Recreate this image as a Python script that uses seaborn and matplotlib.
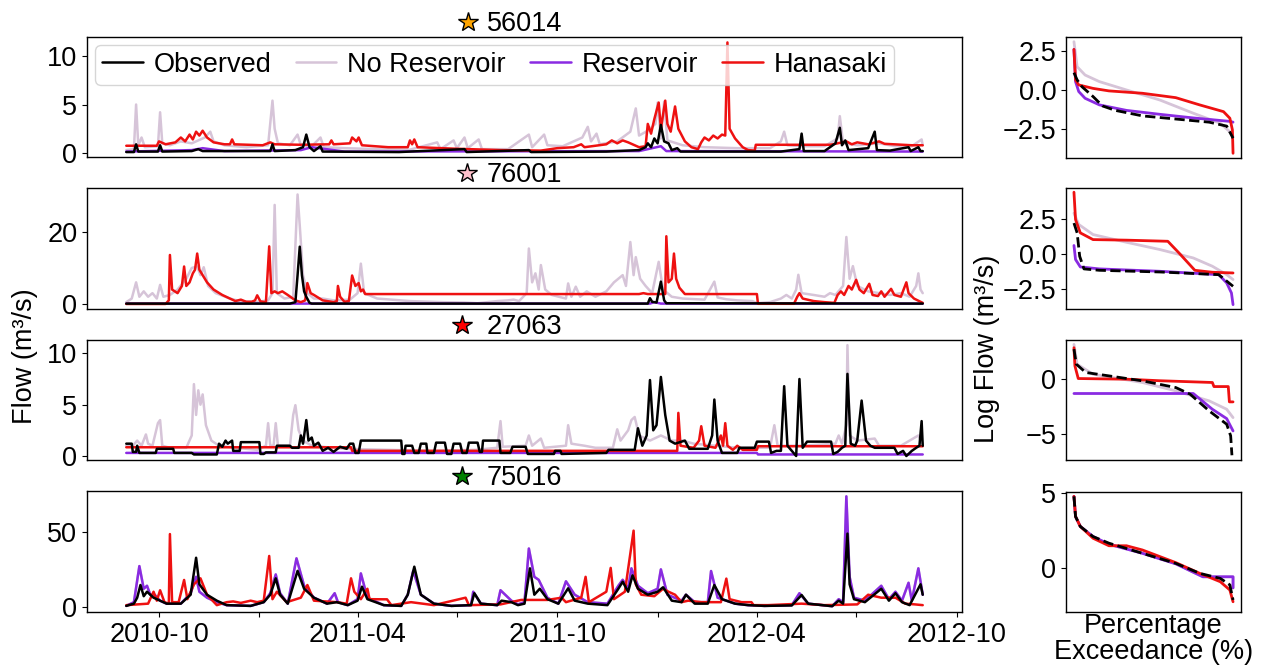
import pandas as pd
import matplotlib.pyplot as plt
import seaborn as sns

# ---------------------- DATA ----------------------
# time series digitised as (day since 2010-09-01, flow m3/s) breakpoints
start = pd.Timestamp("2010-09-01")
gauges = ["56014", "76001", "27063", "75016"]
star_colors = ["orange", "pink", "red", "green"]

obs_56014 = [(0, 0.1), (7, 0.1), (9, 0.9), (11, 0.15), (29, 0.15), (31, 0.8), (33, 0.15), (60, 0.2), (66, 0.4), (70, 0.2),
             (132, 0.2), (134, 0.9), (136, 0.2), (155, 0.3), (162, 0.6), (165, 1.9), (168, 0.6), (172, 0.2), (178, 0.7),
             (180, 0.15), (250, 0.1), (310, 0.4), (312, 0.1), (369, 0.3), (371, 0.1), (440, 0.15), (470, 0.3), (476, 0.6),
             (478, 1.0), (481, 0.6), (484, 1.5), (487, 1.0), (490, 2.9), (493, 1.2), (497, 1.0), (500, 0.3), (505, 0.5),
             (508, 0.15), (600, 0.15), (617, 0.4), (619, 2.0), (621, 0.2), (640, 0.2), (650, 1.0), (654, 2.6), (656, 0.8),
             (659, 1.3), (662, 0.3), (680, 0.5), (686, 2.2), (688, 0.3), (700, 0.25), (717, 0.6), (719, 0.2), (726, 0.6),
             (728, 0.2), (730, 0.2)]
nores_56014 = [(0, 0.3), (7, 0.4), (9, 5.0), (11, 0.8), (14, 1.6), (17, 0.6), (29, 0.7), (31, 4.2), (33, 1.0), (40, 0.8),
               (50, 1.2), (60, 1.0), (72, 1.6), (77, 2.2), (80, 1.2), (90, 0.8), (110, 0.6), (130, 0.8), (134, 5.4),
               (136, 2.5), (139, 1.0), (150, 0.8), (157, 1.9), (160, 0.8), (170, 0.7), (178, 1.6), (181, 0.6), (200, 0.5),
               (230, 0.4), (260, 0.35), (285, 1.1), (288, 0.4), (300, 1.3), (303, 0.5), (310, 1.6), (313, 0.5), (323, 1.4),
               (326, 0.4), (350, 0.4), (369, 1.9), (372, 0.6), (383, 1.9), (386, 0.8), (400, 0.7), (418, 1.6), (423, 2.7),
               (426, 1.2), (431, 2.0), (434, 0.9), (450, 1.2), (462, 2.2), (467, 4.6), (470, 1.8), (478, 2.3), (485, 3.0),
               (487, 5.2), (490, 1.5), (493, 5.3), (496, 1.3), (510, 0.8), (530, 0.6), (560, 0.5), (590, 0.5), (600, 1.2),
               (603, 2.2), (606, 0.8), (620, 0.7), (640, 0.7), (652, 1.5), (654, 3.8), (657, 1.0), (670, 0.8), (690, 1.0),
               (705, 0.7), (720, 0.7), (729, 1.4), (730, 0.8)]
res_56014 = [(0, 0.15), (60, 0.3), (70, 0.5), (90, 0.2), (160, 0.3), (170, 0.6), (200, 0.15), (470, 0.2), (490, 0.7),
             (495, 0.2), (730, 0.15)]
hana_56014 = [(0, 0.75), (28, 0.75), (30, 1.2), (36, 0.9), (45, 1.1), (50, 1.6), (54, 1.2), (58, 1.9), (61, 1.4), (64, 2.2),
              (67, 1.8), (70, 2.3), (74, 1.6), (80, 1.1), (90, 0.9), (95, 0.9), (97, 1.4), (99, 0.9), (125, 0.8), (132, 1.1),
              (136, 0.9), (160, 0.85), (186, 0.9), (188, 1.3), (190, 0.9), (205, 1.0), (207, 1.6), (211, 1.2), (213, 1.6),
              (216, 0.8), (240, 0.6), (258, 0.6), (260, 1.3), (262, 0.9), (264, 1.4), (267, 0.6), (300, 0.45), (343, 0.3),
              (380, 0.25), (395, 0.5), (410, 0.6), (417, 0.9), (420, 0.6), (440, 0.9), (445, 1.3), (450, 1.0), (455, 1.3),
              (460, 1.1), (470, 0.6), (476, 0.7), (478, 3.0), (481, 2.0), (484, 3.5), (488, 5.2), (490, 2.5), (494, 5.4),
              (496, 3.0), (499, 2.2), (503, 4.8), (506, 2.5), (512, 1.2), (518, 0.6), (524, 0.4), (527, 1.1), (530, 1.6),
              (534, 1.3), (538, 1.8), (542, 1.5), (546, 1.9), (549, 1.8), (551, 11.4), (553, 2.5), (558, 1.5), (565, 0.6),
              (570, 0.3), (576, 0.25), (577, 0.85), (645, 0.85), (650, 0.95), (660, 1.2), (665, 0.9), (670, 1.1),
              (680, 0.9), (690, 1.2), (695, 0.95), (720, 0.8), (730, 0.8)]

obs_76001 = [(0, 0.1), (150, 0.1), (155, 0.5), (157, 8.0), (159, 15.9), (161, 8.0), (163, 3.5), (165, 2.0), (168, 0.3),
             (170, 0.1), (478, 0.1), (480, 1.6), (482, 0.6), (486, 0.4), (490, 6.2), (493, 1.0), (495, 0.2), (730, 0.1)]
nores_76001 = [(0, 0.5), (5, 1.5), (9, 6.0), (12, 2.0), (16, 3.5), (20, 2.0), (24, 3.0), (28, 1.5), (31, 5.3), (34, 2.0),
               (40, 2.5), (47, 4.0), (55, 7.0), (60, 10.0), (65, 10.4), (68, 8.0), (71, 10.2), (75, 5.0), (82, 3.0),
               (95, 1.5), (104, 0.8), (120, 0.6), (130, 1.0), (134, 3.0), (136, 27.5), (138, 3.0), (145, 1.5), (153, 2.0),
               (157, 30.4), (159, 21.8), (162, 8.0), (166, 3.0), (172, 1.5), (180, 1.5), (190, 1.0), (205, 1.2),
               (212, 3.0), (215, 11.2), (218, 3.0), (230, 1.5), (260, 0.8), (290, 0.5), (310, 0.4), (322, 0.2),
               (340, 0.8), (350, 1.0), (355, 1.2), (360, 0.8), (367, 3.0), (369, 15.4), (372, 6.0), (375, 8.5),
               (378, 4.0), (380, 10.8), (384, 4.0), (390, 2.5), (403, 1.5), (405, 5.7), (408, 2.0), (412, 4.8),
               (416, 2.0), (422, 3.5), (430, 2.0), (440, 3.5), (447, 6.0), (455, 8.0), (458, 5.0), (462, 17.2),
               (465, 8.0), (467, 13.0), (471, 7.0), (476, 5.0), (482, 3.0), (488, 11.7), (492, 4.0), (500, 2.0),
               (510, 1.5), (530, 1.2), (539, 6.2), (542, 1.8), (550, 1.3), (560, 1.0), (574, 0.8), (578, 0.2), (590, 0.5),
               (600, 1.5), (605, 2.5), (610, 1.5), (614, 4.0), (616, 8.1), (619, 3.0), (630, 2.5), (640, 2.0), (645, 3.0),
               (650, 2.5), (657, 5.0), (660, 18.6), (663, 7.0), (666, 10.5), (670, 5.0), (680, 3.5), (690, 3.0),
               (700, 2.5), (710, 3.0), (718, 2.0), (724, 5.0), (726, 8.5), (728, 4.0), (730, 3.0)]
res_76001 = [(0, 0.1), (480, 0.1), (484, 0.5), (490, 0.1), (730, 0.1)]
hana_76001 = [(0, 0.0), (36, 0.0), (39, 1.0), (40, 13.6), (42, 4.0), (47, 3.0), (51, 5.0), (53, 10.4), (55, 5.0), (58, 6.0),
              (61, 8.5), (63, 9.5), (65, 14.0), (67, 9.5), (70, 8.0), (74, 6.0), (80, 4.0), (88, 2.5), (95, 1.5), (100, 0.8),
              (105, 1.2), (110, 0.6), (115, 0.6), (118, 1.0), (120, 2.4), (123, 0.7), (128, 0.5), (131, 16.0), (133, 3.0),
              (136, 3.5), (139, 3.0), (143, 3.5), (148, 2.5), (155, 1.0), (160, 0.5), (164, 1.0), (166, 5.8), (169, 3.0),
              (172, 2.5), (180, 1.0), (190, 0.5), (193, 0.8), (194, 5.0), (196, 2.0), (200, 0.6), (204, 0.8), (207, 7.9),
              (210, 5.0), (213, 5.8), (215, 3.5), (217, 4.0), (219, 2.75), (470, 2.75), (474, 3.0), (478, 2.75),
              (494, 2.75), (495, 18.8), (497, 6.0), (500, 7.0), (502, 14.0), (504, 7.0), (507, 4.5), (512, 2.75),
              (578, 2.75), (579, 0.05), (612, 0.05), (615, 2.0), (617, 3.0), (620, 1.5), (630, 0.8), (640, 0.5),
              (649, 0.3), (652, 2.5), (655, 3.5), (658, 2.5), (662, 5.0), (665, 4.0), (669, 6.7), (672, 4.0), (676, 3.0),
              (681, 5.6), (684, 2.5), (689, 2.2), (692, 3.5), (695, 2.0), (701, 4.2), (704, 2.5), (710, 2.0), (715, 6.0),
              (717, 3.0), (722, 1.5), (730, 0.3)]

obs_27063 = [(0, 1.2), (5, 1.2), (6, 0.4), (9, 0.4), (10, 1.0), (12, 0.3), (27, 0.3), (28, 0.7), (43, 0.7), (44, 0.3),
             (60, 0.3), (62, 0.15), (83, 0.15), (85, 1.2), (88, 0.9), (91, 1.5), (93, 1.2), (97, 1.5), (98, 0.5),
             (104, 0.5), (105, 1.35), (122, 1.35), (123, 0.2), (126, 0.2), (128, 0.35), (137, 0.35), (138, 1.0),
             (150, 1.0), (152, 0.8), (158, 0.8), (160, 2.0), (162, 1.2), (165, 3.5), (167, 1.5), (170, 1.8), (172, 1.0),
             (176, 1.3), (180, 0.5), (185, 0.8), (190, 0.4), (196, 0.9), (202, 0.7), (205, 1.2), (208, 1.2), (210, 0.3),
             (213, 0.3), (215, 1.5), (252, 1.5), (253, 0.2), (255, 0.2), (256, 1.0), (262, 1.0), (264, 0.3), (268, 0.3),
             (270, 1.2), (275, 1.2), (276, 0.3), (282, 0.3), (284, 1.3), (292, 1.3), (294, 0.2), (298, 0.2), (300, 1.2),
             (306, 1.2), (308, 0.3), (312, 0.3), (314, 1.3), (322, 1.3), (324, 0.4), (326, 0.4), (327, 1.5), (342, 1.5),
             (343, 0.3), (352, 0.3), (354, 0.9), (366, 0.9), (368, 0.2), (392, 0.2), (393, 0.5), (398, 0.5), (399, 0.2),
             (440, 0.3), (442, 0.6), (466, 0.6), (469, 2.7), (473, 1.0), (477, 2.0), (480, 7.4), (483, 2.5), (486, 3.0),
             (490, 7.7), (494, 4.0), (498, 1.5), (503, 1.2), (506, 1.3), (512, 1.5), (516, 0.7), (533, 0.7), (537, 2.0),
             (539, 5.5), (542, 1.5), (546, 0.3), (560, 0.3), (562, 0.8), (576, 0.8), (578, 1.4), (589, 1.4), (591, 0.3),
             (596, 0.5), (600, 0.5), (603, 6.8), (606, 1.0), (610, 0.5), (614, 0.0), (617, 7.5), (620, 0.8), (624, 1.4),
             (646, 1.4), (648, 0.2), (652, 0.4), (656, 0.8), (659, 1.0), (661, 8.0), (664, 1.2), (668, 1.0), (670, 1.5),
             (674, 5.4), (678, 1.5), (682, 1.0), (686, 0.8), (704, 0.8), (707, 0.2), (712, 0.5), (715, 0.0), (720, 0.5),
             (724, 0.8), (727, 1.0), (729, 3.4), (730, 1.0)]
nores_27063 = [(0, 1.0), (6, 1.0), (10, 1.5), (14, 1.0), (18, 2.1), (20, 1.2), (24, 1.0), (29, 3.2), (31, 3.5), (33, 1.0),
               (40, 0.8), (55, 0.8), (60, 2.0), (62, 7.0), (64, 4.0), (66, 6.4), (68, 5.0), (70, 6.0), (73, 3.0),
               (78, 1.5), (85, 1.0), (100, 0.8), (120, 0.6), (128, 1.0), (130, 3.2), (132, 1.0), (135, 1.0), (137, 3.2),
               (139, 1.0), (150, 1.0), (153, 4.0), (155, 4.95), (158, 2.5), (162, 1.5), (170, 1.0), (200, 0.7),
               (240, 0.6), (280, 0.5), (320, 0.6), (340, 0.8), (343, 3.4), (345, 0.9), (366, 1.0), (369, 2.0), (372, 1.0),
               (380, 1.7), (383, 0.8), (403, 1.0), (405, 3.0), (408, 1.2), (420, 1.0), (430, 0.8), (446, 0.8), (450, 2.6),
               (453, 1.5), (460, 2.5), (463, 3.5), (466, 3.8), (470, 2.0), (480, 1.5), (490, 2.0), (500, 1.5), (510, 1.5),
               (520, 1.2), (540, 1.0), (560, 0.8), (590, 0.8), (594, 3.0), (597, 1.0), (620, 1.0), (650, 1.2), (653, 2.0),
               (656, 1.2), (660, 3.0), (661, 10.8), (663, 2.0), (670, 1.5), (686, 1.7), (690, 1.0), (710, 1.0),
               (726, 2.0), (730, 1.2)]
res_27063 = [(0, 0.3), (578, 0.3), (579, 0.15), (730, 0.15)]
hana_27063 = [(0, 0.85), (206, 0.85), (207, 0.5), (505, 0.5), (506, 4.2), (508, 1.0), (520, 0.8), (525, 1.5), (527, 2.9),
              (530, 1.0), (540, 0.8), (543, 1.5), (545, 2.0), (547, 1.0), (549, 3.2), (551, 1.0), (556, 0.6), (560, 1.0),
              (565, 0.6), (578, 0.6), (579, 0.95), (730, 0.95)]

obs_75016 = [(0, 0.5), (7, 2.0), (10, 6.0), (13, 14.5), (16, 7.0), (19, 10.0), (25, 6.0), (31, 4.0), (37, 2.0), (50, 2.0),
             (59, 8.0), (64, 32.8), (67, 15.0), (74, 8.0), (83, 4.0), (92, 1.0), (114, 0.5), (126, 3.0), (132, 8.0),
             (137, 19.0), (141, 8.0), (148, 2.0), (157, 24.0), (163, 12.0), (172, 6.0), (184, 2.0), (193, 3.0),
             (203, 1.0), (212, 4.0), (216, 13.4), (221, 5.0), (236, 1.0), (252, 0.5), (258, 8.0), (264, 26.8),
             (270, 8.0), (282, 2.0), (298, 0.5), (316, 1.0), (319, 9.0), (325, 2.0), (340, 1.0), (344, 4.0), (353, 3.0),
             (359, 1.0), (365, 2.0), (370, 25.7), (374, 8.0), (379, 12.0), (386, 5.0), (396, 2.0), (405, 12.3),
             (411, 4.0), (423, 2.0), (441, 1.0), (451, 12.0), (455, 16.7), (460, 10.0), (464, 21.0), (469, 12.0),
             (478, 8.0), (487, 10.0), (492, 13.0), (500, 4.0), (509, 3.0), (513, 8.0), (521, 2.0), (533, 2.0),
             (539, 14.5), (546, 5.0), (558, 2.0), (570, 1.0), (585, 0.5), (610, 0.8), (619, 7.8), (625, 2.0), (647, 0.3),
             (653, 4.0), (657, 2.0), (661, 49.0), (663, 15.0), (667, 5.0), (677, 3.0), (692, 12.0), (699, 4.0),
             (705, 9.0), (711, 3.0), (718, 1.0), (728, 15.0), (730, 8.0)]
res_75016 = [(0, 0.5), (7, 3.0), (12, 27.2), (16, 12.0), (19, 14.0), (22, 8.0), (26, 8.0), (31, 4.0), (37, 2.0), (50, 2.0),
             (59, 9.0), (64, 20.0), (67, 10.0), (74, 6.0), (83, 3.0), (92, 1.0), (114, 0.5), (126, 3.0), (132, 9.0),
             (137, 21.6), (141, 9.0), (148, 2.0), (156, 32.4), (163, 14.0), (172, 6.0), (184, 2.0), (191, 9.0),
             (194, 3.0), (203, 1.0), (212, 5.0), (215, 22.3), (221, 6.0), (236, 1.0), (252, 0.5), (258, 8.0),
             (263, 24.0), (270, 8.0), (282, 2.0), (298, 0.5), (316, 1.0), (318, 10.0), (325, 2.0), (340, 1.0),
             (343, 11.0), (353, 4.0), (359, 1.5), (365, 3.0), (369, 39.0), (374, 20.0), (378, 18.0), (386, 6.0),
             (396, 2.0), (403, 17.0), (411, 8.0), (423, 3.0), (441, 2.0), (451, 14.0), (455, 18.0), (460, 12.0),
             (463, 25.7), (469, 14.0), (478, 9.0), (487, 12.0), (490, 25.0), (496, 8.0), (509, 4.0), (513, 8.0),
             (521, 3.0), (533, 3.0), (536, 23.9), (542, 6.0), (558, 2.0), (570, 1.0), (585, 0.5), (610, 1.0),
             (617, 9.0), (625, 2.0), (647, 0.3), (653, 5.0), (657, 3.0), (660, 74.0), (663, 20.0), (667, 6.0),
             (677, 4.0), (692, 14.0), (699, 5.0), (705, 10.0), (711, 4.0), (717, 16.0), (720, 4.0), (726, 25.7),
             (730, 8.0)]
nores_75016 = res_75016
hana_75016 = [(0, 1.0), (20, 2.0), (25, 10.0), (28, 4.0), (31, 11.0), (35, 3.0), (39, 2.0), (40, 48.7), (42, 3.0),
              (48, 3.0), (53, 17.9), (56, 5.0), (62, 15.0), (68, 19.0), (74, 8.0), (83, 1.0), (92, 3.0), (98, 3.5),
              (105, 2.5), (114, 4.0), (120, 3.0), (126, 4.0), (131, 34.0), (134, 5.0), (138, 10.0), (147, 3.0),
              (160, 6.0), (166, 14.5), (172, 4.0), (193, 3.0), (202, 2.0), (206, 19.0), (209, 10.0), (215, 5.0),
              (221, 12.0), (223, 5.0), (239, 4.9), (243, 1.0), (261, 3.0), (282, 1.0), (311, 6.0), (314, 1.0),
              (343, 1.5), (362, 4.5), (386, 4.5), (399, 6.0), (403, 3.0), (417, 6.0), (421, 20.0), (424, 3.0),
              (440, 10.0), (444, 26.0), (447, 5.0), (457, 10.0), (465, 51.0), (467, 15.0), (472, 8.0), (484, 7.0),
              (492, 12.0), (497, 10.0), (503, 8.0), (509, 3.0), (515, 4.0), (527, 3.0), (545, 3.0), (550, 18.8),
              (553, 5.0), (564, 3.0), (573, 3.0), (575, 1.0), (588, 1.0), (619, 2.0), (640, 1.0), (670, 1.5),
              (680, 8.0), (692, 6.0), (705, 6.0), (714, 2.0), (723, 1.5), (730, 1.0)]

# flow duration curves: (exceedance %, log flow)
fdc_obs_56014 = [(0, 1.1), (2, 0.64), (5, 0.21), (12, -0.42), (18, -1.02), (26, -1.3), (43, -1.65), (64, -1.85),
                 (85, -2.05), (96, -2.3), (100, -3.07)]
fdc_nores_56014 = [(0, 3.07), (2, 1.48), (7, 0.95), (16, 0.53), (33, 0.0), (54, -0.64), (75, -1.48), (92, -2.12),
                   (99, -2.75), (100, -2.97)]
fdc_res_56014 = [(0, 2.58), (1, 0.53), (3, -0.1), (7, -0.53), (16, -0.95), (33, -1.3), (54, -1.55), (75, -1.78),
                 (98, -2.0), (100, -2.05)]
fdc_hana_56014 = [(0, 2.58), (1, 0.64), (3, 0.32), (12, 0.1), (22, -0.06), (43, -0.21), (64, -0.49), (79, -0.95),
                  (94, -1.38), (98, -1.8), (99.6, -2.54), (100, -4.03)]

fdc_obs_76001 = [(0, 2.2), (2, 1.5), (3.6, -0.17), (6.3, -1.07), (16, -1.17), (54, -1.29), (91, -1.48), (100, -2.31)]
fdc_nores_76001 = [(0, 2.9), (3, 2.1), (12, 1.38), (33, 0.83), (54, 0.31), (75, -0.29), (87, -0.88), (96, -1.48),
                   (100, -1.83)]
fdc_res_76001 = [(0, 0.6), (1, -0.4), (4, -0.93), (16, -1.07), (54, -1.24), (91, -1.48), (96, -2.07), (99, -2.79),
                 (100, -3.62)]
fdc_hana_76001 = [(0, 4.4), (1, 2.45), (4, 1.5), (12, 1.02), (33, 0.98), (59, 0.9), (66, 0.07), (76, -1.17),
                  (87, -1.31), (100, -1.36)]

fdc_obs_27063 = [(0, 2.67), (1.5, 1.3), (7.4, 0.55), (22, 0.24), (43, -0.21), (64, -0.82), (73, -1.42), (85, -2.94),
                 (96, -4.15), (98.5, -5.2), (99.3, -6.97)]
fdc_nores_27063 = [(0, 3.1), (2, 1.3), (12, 0.39), (43, -0.36), (64, -1.12), (85, -2.03), (96, -2.79), (100, -3.55)]
fdc_res_27063 = [(0, -1.36), (75, -1.36), (87, -2.79), (96, -3.64), (100, -4.76)]
fdc_hana_27063 = [(0, 2.8), (0.6, 1.15), (2.7, 0.0), (33, -0.06), (54, -0.2), (87, -0.36), (88, -0.73), (97, -0.73),
                  (97.7, -2.12), (100, -2.12)]

fdc_obs_75016 = [(0, 4.78), (1, 3.44), (4, 2.78), (12, 2.11), (22, 1.67), (43, 1.0), (64, 0.33), (79, -0.33),
                 (92, -0.67), (98, -1.1), (100, -2.1)]
fdc_res_75016 = [(0, 4.78), (1, 3.44), (4, 2.78), (12, 2.11), (22, 1.6), (43, 1.0), (64, 0.3), (81, -0.56),
                 (100, -0.56), (100, -1.3)]
fdc_nores_75016 = fdc_res_75016
fdc_hana_75016 = [(0, 4.78), (1, 3.44), (4, 2.78), (12, 2.0), (22, 1.5), (33, 1.5), (43, 1.22), (64, 0.38),
                  (79, -0.33), (92, -0.89), (98, -1.44), (100, -2.22)]

series = {
    "56014": {"No Reservoir": nores_56014, "Reservoir": res_56014, "Hanasaki": hana_56014, "Observed": obs_56014},
    "76001": {"No Reservoir": nores_76001, "Reservoir": res_76001, "Hanasaki": hana_76001, "Observed": obs_76001},
    "27063": {"No Reservoir": nores_27063, "Reservoir": res_27063, "Hanasaki": hana_27063, "Observed": obs_27063},
    "75016": {"No Reservoir": nores_75016, "Reservoir": res_75016, "Hanasaki": hana_75016, "Observed": obs_75016},
}
fdcs = {
    "56014": {"No Reservoir": fdc_nores_56014, "Reservoir": fdc_res_56014, "Hanasaki": fdc_hana_56014, "Observed": fdc_obs_56014},
    "76001": {"No Reservoir": fdc_nores_76001, "Reservoir": fdc_res_76001, "Hanasaki": fdc_hana_76001, "Observed": fdc_obs_76001},
    "27063": {"No Reservoir": fdc_nores_27063, "Reservoir": fdc_res_27063, "Hanasaki": fdc_hana_27063, "Observed": fdc_obs_27063},
    "75016": {"No Reservoir": fdc_nores_75016, "Reservoir": fdc_res_75016, "Hanasaki": fdc_hana_75016, "Observed": fdc_obs_75016},
}

colors = {"Observed": "black", "No Reservoir": "#d6c4d8", "Reservoir": "#8a2be2", "Hanasaki": "#ee1111"}
draw_order = ["No Reservoir", "Reservoir", "Hanasaki", "Observed"]
legend_order = ["Observed", "No Reservoir", "Reservoir", "Hanasaki"]

ts_ylims = [(-0.41, 11.96), (-1.4, 32.2), (-0.39, 11.3), (-3.6, 77.6)]
ts_yticks = [[0, 5, 10], [0, 20], [0, 5, 10], [0, 50]]
fdc_ylims = [(-4.33, 3.37), (-3.93, 4.7), (-7.4, 3.5), (-2.9, 5.07)]
fdc_yticks = [[-2.5, 0, 2.5], [-2.5, 0, 2.5], [-5, 0], [0, 5]]


def to_frame(pairs, dates=True):
    x, y = zip(*pairs)
    if dates:
        x = start + pd.to_timedelta(list(x), unit="D")
    return pd.DataFrame({"x": x, "y": y})


# ---------------------- PLOT ----------------------
sns.set_style("ticks", {"axes.edgecolor": "black", "text.color": "black",
                        "xtick.color": "black", "ytick.color": "black"})
plt.rcParams["font.family"] = ["Liberation Sans", "DejaVu Sans"]
plt.rcParams["font.size"] = 19.5
plt.rcParams["axes.linewidth"] = 1.0

W, H = 1262, 666
fig = plt.figure(figsize=(W / 100, H / 100), dpi=100)


def rect(x0, x1, y0, y1):
    return [x0 / W, 1 - y1 / H, (x1 - x0) / W, (y1 - y0) / H]


ts_rows = [(37, 157), (188, 309), (340, 460), (491, 612)]
fdc_rows = [(37, 158), (188, 309), (340, 460), (492, 612)]
star_x = [468, 467, 462, 462]
ticks = pd.date_range("2010-10-01", "2012-10-01", freq="3MS")

for i, g in enumerate(gauges):
    ax = fig.add_axes(rect(87, 962, *ts_rows[i]))
    for name in draw_order:
        sns.lineplot(data=to_frame(series[g][name]), x="x", y="y", ax=ax, color=colors[name],
                     lw=1.8, estimator=None, sort=False, label=name, legend=False)
    ax.set_xlim(start - pd.Timedelta(days=36), start + pd.Timedelta(days=766))
    ax.set_ylim(*ts_ylims[i])
    ax.set_yticks(ts_yticks[i])
    ax.set_xlabel("")
    ax.set_ylabel("")
    ax.set_xticks(ticks)
    if i == 3:
        ax.set_xticklabels([t.strftime("%Y-%m") if t.month in (4, 10) else "" for t in ticks])
    else:
        ax.tick_params(axis="x", bottom=False, labelbottom=False)
    for s in ax.spines.values():
        s.set_visible(True)

    # title with coloured star
    ax.text(0.5, 1.0, g, transform=ax.transAxes, ha="center", va="bottom", fontsize=19.5)
    ax.plot([(star_x[i] - 87) / 875], [1 + 15 / 120], marker="*", ms=15, mfc=star_colors[i],
            mec="black", mew=1, transform=ax.transAxes, clip_on=False)

    if i == 0:
        h, l = ax.get_legend_handles_labels()
        hd = dict(zip(l, h))
        ax.legend([hd[n] for n in legend_order], legend_order, loc="upper left", ncol=4,
                  handlelength=1.5, handletextpad=0.4, columnspacing=0.9, borderpad=0.25,
                  borderaxespad=0.3, fontsize=19.5)

    ax2 = fig.add_axes(rect(1066, 1241, *fdc_rows[i]))
    for name in draw_order:
        sns.lineplot(data=to_frame(fdcs[g][name], dates=False), x="x", y="y", ax=ax2, color=colors[name],
                     lw=2, estimator=None, sort=False, legend=False,
                     linestyle="--" if name == "Observed" else "-")
    ax2.set_xlim(-5, 105)
    ax2.set_ylim(*fdc_ylims[i])
    ax2.set_yticks(fdc_yticks[i])
    ax2.set_xticks([])
    ax2.set_xlabel("")
    ax2.set_ylabel("")
    for s in ax2.spines.values():
        s.set_visible(True)

fig.text(0.02, 0.465, "Flow (m³/s)", rotation=90, ha="center", va="center")
fig.text(0.782, 0.477, "Log Flow (m³/s)", rotation=90, ha="center", va="center")
fig.text(0.9137, 0.08, "Percentage\nExceedance (%)", ha="center", va="top", linespacing=1.0)

fig.savefig("out.png", dpi=100)
